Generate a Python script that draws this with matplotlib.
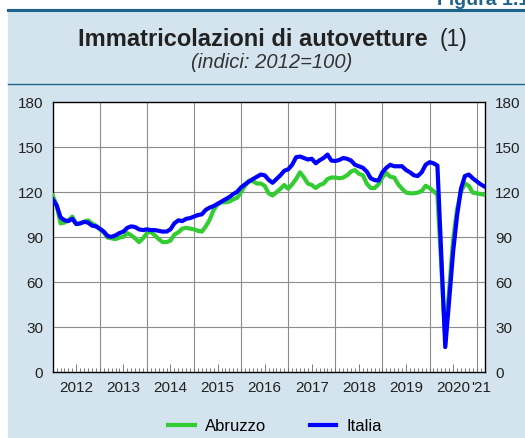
import matplotlib
matplotlib.use("Agg")
import matplotlib.pyplot as plt
import numpy as np
from matplotlib.patches import Rectangle
from matplotlib.lines import Line2D

plt.rcParams["font.family"] = ["Liberation Sans", "DejaVu Sans"]

# indici mensili 2012=100, gen 2012 - mar 2021
ABRUZZO = [
    117.5, 111, 99, 99.5, 101, 103.5, 98.5, 99, 100, 101, 99, 97.5,
    95, 93, 89.5, 89, 88.5, 89.5, 90, 92.5, 91, 89, 86.5, 89,
    92.5, 93.5, 91, 88.5, 86.5, 86.5, 87.5, 91.5, 93, 95.5, 96, 95.5,
    95, 94, 93.5, 97, 101.5, 108, 111.5, 113, 113, 113.5, 115, 116,
    120, 124, 127.5, 127, 125.5, 125.5, 124, 119, 117.5, 119.7, 122, 124.5,
    122, 125, 128.5, 133, 129.5, 125.5, 124.5, 122.5, 124.5, 125.5, 128.5, 129.5,
    129.5, 129, 129.5, 131, 133.5, 134.5, 132, 131, 125.5, 122.5, 122.5, 125,
    129.7, 132.5, 130, 129.5, 125, 122, 119.5, 119, 119, 119.5, 120.5, 124,
    122.5, 120.5, 118, 70, 22, 55, 88, 108, 120, 125.5, 124, 119.5,
    119, 118.5, 118,
]
ITALIA = [
    115, 111, 103, 101, 100.5, 102, 98.5, 99, 100, 99.5, 97.5, 97,
    95.5, 93.5, 90.5, 90, 91, 92.5, 93.5, 96, 97, 96.5, 95, 94.5,
    95, 94.5, 94.5, 94, 93.5, 93.5, 95, 99, 101, 100.5, 102, 102.5,
    103.5, 104.5, 105, 108, 109.5, 110.5, 112, 113.5, 115, 116.5, 118.5, 120,
    123, 125, 126.8, 128.5, 130, 131.5, 131, 128, 126, 128.5, 131, 134,
    135, 138, 143, 143.5, 142.5, 141.5, 142, 139, 141, 142.5, 144.8, 140.8,
    140.5, 141.2, 142.5, 142, 140.8, 138, 137, 136, 133.5, 129, 127.8, 127.5,
    133, 136, 138, 137, 137, 137, 134.5, 133, 131, 130.5, 133, 138,
    139.7, 139, 137.5, 77, 16.6, 48, 80, 104, 122, 130.5, 131.5, 129,
    127, 125, 123.5,
]
YEAR_LABELS = ["2012", "2013", "2014", "2015", "2016", "2017", "2018", "2019", "2020", "'21"]
Y_TICKS = [0, 30, 60, 90, 120, 150, 180]

BG = "#d3e4ee"
TEAL = "#1f6489"
GREEN = "#33cc33"
BLUE = "#0000ff"

W, H = 525, 439


def main():
    fig = plt.figure(figsize=(W / 100, H / 100), dpi=100)
    fig.patch.set_facecolor("white")

    # riquadro azzurro e filetti
    fig.patches.append(Rectangle((8 / W, 0), 1 - 8 / W, 1 - 10 / H,
                                 transform=fig.transFigure, color=BG, zorder=-5))
    fig.lines.append(Line2D([8 / W, 1], [1 - 10.5 / H] * 2, transform=fig.transFigure,
                            color=TEAL, linewidth=2.2, zorder=-4))
    fig.lines.append(Line2D([8 / W, 1], [1 - 85 / H] * 2, transform=fig.transFigure,
                            color=TEAL, linewidth=1.0, zorder=-4))
    fig.text(437 / W, 1 - 5 / H, "Figura 1.1", color=TEAL, fontsize=14,
             fontweight="bold", ha="left", va="baseline")

    fig.text(78 / W, 1 - 46 / H, "Immatricolazioni di autovetture", fontsize=17,
             fontweight="bold", ha="left", va="baseline", color="#222222")
    fig.text(440 / W, 1 - 46 / H, "(1)", fontsize=16.5, ha="left", va="baseline",
             color="#222222")
    fig.text(272 / W, 1 - 68 / H, "(indici: 2012=100)", fontsize=14.5, style="italic",
             ha="center", va="baseline", color="#333333")

    ax = fig.add_axes([52.7 / W, 1 - 373 / H, (485.3 - 52.7) / W, (373 - 102.7) / H])
    ax.set_facecolor("white")

    x = np.arange(len(ITALIA))
    ax.plot(x, ABRUZZO, color=GREEN, linewidth=3.0, label="Abruzzo", zorder=3,
            solid_joinstyle="round")
    ax.plot(x, ITALIA, color=BLUE, linewidth=3.0, label="Italia", zorder=4,
            solid_joinstyle="round")

    n = len(ITALIA)
    ax.set_xlim(0, n - 0.8)
    ax.set_ylim(0, 180)

    # griglia
    for yv in Y_TICKS[1:-1]:
        ax.axhline(yv, color="#8c8c8c", linewidth=0.8, zorder=1)
    for k in range(12, n, 12):
        ax.axvline(k, color="#8c8c8c", linewidth=0.8, zorder=1)

    ax.set_yticks(Y_TICKS)
    ax.tick_params(axis="y", length=0, labelsize=11, pad=7, labelright=True,
                   right=True, labelcolor="#222222")

    # tacche mensili, tacche più lunghe a metà anno
    ax.set_xticks(np.arange(0, n, 1), minor=True)
    ax.set_xticks(np.arange(6, n, 12))
    ax.set_xticklabels(YEAR_LABELS[:len(np.arange(6, n, 12))])
    ax.tick_params(axis="x", which="minor", direction="in", length=3, width=0.6,
                   color="#666666")
    ax.tick_params(axis="x", which="major", direction="in", length=6, width=0.6,
                   color="#666666", labelsize=11, pad=6, labelcolor="#222222")
    last_start = 12 * (len(YEAR_LABELS) - 1)
    ax.annotate(YEAR_LABELS[-1], xy=((last_start + ax.get_xlim()[1]) / 2, 0),
                xycoords=("data", "axes fraction"), xytext=(0, -6),
                textcoords="offset points", ha="center", va="top",
                fontsize=11, color="#222222")

    for s in ax.spines.values():
        s.set_linewidth(1.0)
        s.set_color("black")

    fig.legend(loc="center", bbox_to_anchor=(275 / W, 1 - 427 / H), ncol=2,
               frameon=False, fontsize=12, handlelength=1.6, handletextpad=0.6,
               columnspacing=2.6)

    fig.savefig("out.png", dpi=100, facecolor=fig.get_facecolor())


if __name__ == "__main__":
    main()
